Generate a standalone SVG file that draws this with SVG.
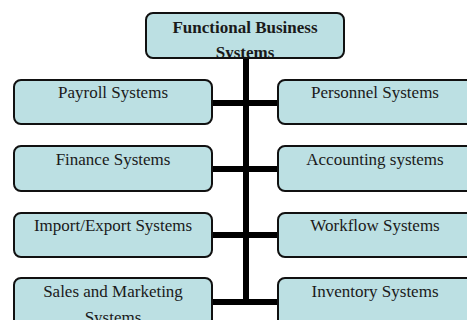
<svg xmlns="http://www.w3.org/2000/svg" width="467" height="320" viewBox="0 0 467 320">
  <style>
    .box { fill: #bce0e3; stroke: #111; stroke-width: 2; }
    .lbl { font-family: "Liberation Serif", "Times New Roman", serif; font-size: 17px; fill: #1a1a1a; text-anchor: middle; }
    .title { font-weight: bold; }
    .conn { stroke: #000; stroke-width: 6; fill: none; }
  </style>
  <defs>
    <clipPath id="clipTop"><rect x="147" y="14" width="196" height="43"/></clipPath>
  </defs>
  <rect width="467" height="320" fill="#fff"/>
  <g id="connectors">
    <line class="conn" x1="246" y1="57" x2="246" y2="304"/>
    <line class="conn" x1="212" y1="103" x2="279" y2="103" stroke-width="5"/>
    <line class="conn" x1="212" y1="169" x2="279" y2="169" stroke-width="5"/>
    <line class="conn" x1="212" y1="235" x2="279" y2="235" stroke-width="5"/>
    <line class="conn" x1="212" y1="302" x2="279" y2="302" stroke-width="5"/>
  </g>
  <g id="functional-business-systems">
    <rect class="box" x="146" y="13" width="198" height="45" rx="7"/>
    <g clip-path="url(#clipTop)">
      <text class="lbl title" x="245" y="33">Functional Business</text>
      <text class="lbl title" x="245" y="58">Systems</text>
    </g>
  </g>
  <g id="payroll-systems">
    <rect class="box" x="14" y="80" width="198" height="44" rx="7"/>
    <text class="lbl" x="113" y="98">Payroll Systems</text>
  </g>
  <g id="personnel-systems">
    <rect class="box" x="278" y="80" width="198" height="44" rx="7"/>
    <text class="lbl" x="375" y="98">Personnel Systems</text>
  </g>
  <g id="finance-systems">
    <rect class="box" x="14" y="146" width="198" height="45" rx="7"/>
    <text class="lbl" x="113" y="165">Finance Systems</text>
  </g>
  <g id="accounting-systems">
    <rect class="box" x="278" y="146" width="198" height="45" rx="7"/>
    <text class="lbl" x="375" y="165">Accounting systems</text>
  </g>
  <g id="import-export-systems">
    <rect class="box" x="14" y="213" width="198" height="44" rx="7"/>
    <text class="lbl" x="113" y="231">Import/Export Systems</text>
  </g>
  <g id="workflow-systems">
    <rect class="box" x="278" y="213" width="198" height="44" rx="7"/>
    <text class="lbl" x="375" y="231">Workflow Systems</text>
  </g>
  <g id="sales-and-marketing-systems">
    <rect class="box" x="14" y="278" width="198" height="48" rx="7"/>
    <text class="lbl" x="113" y="297">Sales and Marketing</text>
    <text class="lbl" x="113" y="323">Systems</text>
  </g>
  <g id="inventory-systems">
    <rect class="box" x="278" y="278" width="198" height="48" rx="7"/>
    <text class="lbl" x="375" y="297">Inventory Systems</text>
  </g>
</svg>
